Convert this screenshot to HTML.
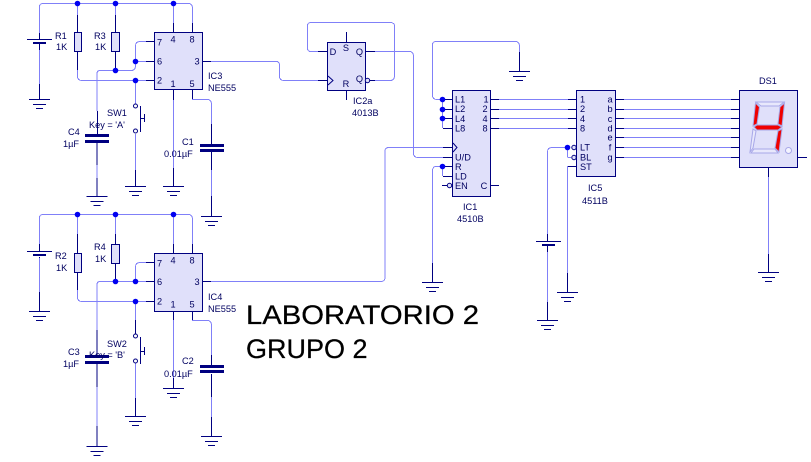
<!DOCTYPE html>
<html><head><meta charset="utf-8"><style>
html,body{margin:0;padding:0;background:#fff;overflow:hidden}
svg{display:block}
text{font-family:"Liberation Sans",sans-serif;font-size:9.2px;fill:#000060}
.m{text-anchor:middle}
.l{fill:none;stroke:#8080f8;stroke-width:1;shape-rendering:crispEdges}
.d{fill:none;stroke:#000080;stroke-width:1;shape-rendering:crispEdges}
.t{fill:none;stroke:#000080;stroke-width:3;shape-rendering:crispEdges}
.t2{fill:none;stroke:#000080;stroke-width:2;shape-rendering:crispEdges}
.b{fill:#e0e0fa;stroke:#000080;stroke-width:1;shape-rendering:crispEdges}
.big{font-size:27px;fill:#000;stroke:#000;stroke-width:.25}
.s{stroke:#a8a8e8;stroke-width:1;fill:#e8e8fc}
.r{stroke:#a8a8e8;stroke-width:1;fill:#f00000}
</style></head><body>
<svg width="811" height="462" viewBox="0 0 811 462" xmlns="http://www.w3.org/2000/svg">
<defs>
<g id="g"><path class="d" d="M-10.5 .5H10.5M-6.5 5.5H6.5M-3.5 9.5H3.5"/></g>
</defs>
<!-- light wires -->
<path class="l" d="M39.5 33V7Q39.5 3.5 43 3.5H188Q192.5 3.5 192.5 8V23M77.5 4V15M115.5 4V15M173.5 4V23M39.5 50V84
M153 80.5H82Q77.5 80.5 77.5 76V70M97 111V74Q97 70.5 100 70.5H131Q135.5 70.5 135.5 66V46Q135.5 41.5 140 41.5H153M136 61.5H154M135.5 81V104M135.5 134V170
M97 165V178M173.5 100V168M211.5 124V104Q211.5 99.5 207 99.5H192M211.5 170V196M202 61.5H270
M39.5 244V218Q39.5 214.5 43 214.5H188Q192.5 214.5 192.5 219V244M77.5 215V234M115.5 215V234M173.5 215V244M39.5 258V292
M153 301.5H82Q77.5 301.5 77.5 297V290M97 330V285Q97 281.5 100 281.5H153M135.5 281V267Q135.5 262.5 140 262.5H153M135.5 302V320M135.5 363V398
M97 387V426M173.5 320V378M211.5 355V325Q211.5 320.5 207 320.5H192M211.5 397V417
M211 281.5H381Q385 281.5 385 277V151Q385 147.5 389 147.5H444
M270 61.5H276Q279.5 61.5 279.5 65V76Q279.5 80.5 284 80.5H318
M318 51.5H311Q307.5 51.5 307.5 48V26Q307.5 22.5 311 22.5H390Q394.5 22.5 394.5 26V76Q394.5 80.5 390 80.5H375
M375 51.5H409Q413.5 51.5 413.5 56V153Q413.5 157.5 418 157.5H444
M443 99.5H437Q432.5 99.5 432.5 95V45Q432.5 41.5 436 41.5H515Q519.5 41.5 519.5 46V52
M442.5 100V128M443 128.5H453M442.5 167V176M443 166.5H436Q432.5 166.5 432.5 171V263
M499 99.5H568M499 109.5H568M499 118.5H568M499 128.5H568
M624 99.5H731M624 109.5H731M624 118.5H731M624 128.5H731M624 137.5H731M624 147.5H731M624 157.5H731
M768.5 177V254
M567 147.5H552Q547.5 147.5 547.5 152V234M547.5 252V302M567.5 148V157M567.5 157.5H571M576 166.5H567.5V273"/>
<!-- dark leads -->
<path class="d" d="M39.5 33V39M39.5 44V50M39.5 84V99M77.5 15V32M77.5 51V70M115.5 15V32M115.5 51V70
M146 41.5H154M146 61.5H154M146 80.5H154M173.5 23V32M192.5 23V32M173.5 90V100M192.5 90V99M202 61.5H211
M135.5 170V186M173.5 168V186M97.5 111V134M97 143V165M97 178V196M211.5 124V144M211.5 152V170M211.5 196V216
M140.5 106V132M141 118.5H144M144.5 114V122
M39.5 244V251M39.5 257V258M39.5 292V311M77.5 234V253M77.5 272V290M115.5 234V244M115.5 263V281
M146 262.5H154M146 281.5H154M146 301.5H154M173.5 244V253M192.5 244V253M173.5 311V320M192.5 311V320M202 281.5H211
M135.5 398V416M173.5 378V388M97 330V355M97 363V387M97 426V446M211.5 355V365M211.5 374V397M211.5 417V436
M140.5 337V364M141 351.5H144M144.5 347V355M135.5 320V334
M318 51.5H328M318 80.5H328M346.5 32V42M346.5 90V100M366 51.5H375M370 80.5H375
M519.5 52V71M432.5 263V282
M443 99.5H453M443 109.5H453M443 118.5H453M443 128.5H453M443 147.5H453M443 157.5H453M443 166.5H453M443 176.5H453M442 185.5H447
M491 99.5H499M491 109.5H499M491 118.5H499M491 128.5H499M491 185.5H499
M568 99.5H576M568 109.5H576M568 118.5H576M568 128.5H576M568 166.5H576
M616 99.5H624M616 109.5H624M616 118.5H624M616 128.5H624M616 137.5H624M616 147.5H624M616 157.5H624
M731 99.5H739M731 109.5H739M731 118.5H739M731 128.5H739M731 137.5H739M731 147.5H739M731 157.5H739M798 157.5H807
M768.5 168V177M768.5 254V272M547.5 234V241M547.5 245V252M547.5 302V320M567.5 273V292"/>
<!-- batteries -->
<path class="d" d="M27 39.5H52M27 251.5H52M536 241.5H561"/>
<path class="t2" d="M33 43H46M33 255H46M542 245H555"/>
<!-- caps -->
<path class="t" d="M85 135.5H109M85 141.5H109M200 145.5H224M200 150.5H224M85 356.5H109M85 362.5H109M200 366.5H224M200 371.5H224"/>
<!-- grounds -->
<use href="#g" x="39.5" y="99"/><use href="#g" x="97" y="196"/><use href="#g" x="135.5" y="186"/><use href="#g" x="173.5" y="186"/><use href="#g" x="211.5" y="216"/>
<use href="#g" x="39.5" y="311"/><use href="#g" x="97" y="446"/><use href="#g" x="135.5" y="416"/><use href="#g" x="173.5" y="388"/><use href="#g" x="211.5" y="436"/>
<use href="#g" x="519.5" y="71"/><use href="#g" x="432.5" y="282"/><use href="#g" x="547.5" y="320"/><use href="#g" x="567.5" y="292"/><use href="#g" x="768.5" y="272"/>
<!-- bodies -->
<rect class="b" x="74.5" y="32.5" width="7" height="19"/><rect class="b" x="111.5" y="32.5" width="8" height="19"/>
<rect class="b" x="74.5" y="253.5" width="7" height="19"/><rect class="b" x="111.5" y="244.5" width="8" height="19"/>
<rect class="b" x="154.5" y="32.5" width="48" height="57"/><rect class="b" x="154.5" y="253.5" width="48" height="58"/>
<rect class="b" x="327.5" y="42.5" width="38" height="48"/><rect class="b" x="452.5" y="90.5" width="38" height="106"/>
<rect class="b" x="576.5" y="90.5" width="39" height="86"/><rect class="b" x="739.5" y="90.5" width="58" height="77"/>
<path class="d" style="shape-rendering:auto" d="M328 76L333 80.5L328 85M453 143L457 147.5L453 152"/>
<!-- open circles -->
<g fill="#fff" stroke="#000080"><circle cx="135.5" cy="106" r="2"/><circle cx="135.5" cy="131" r="2"/><circle cx="135.5" cy="336" r="2"/><circle cx="135.5" cy="361" r="2"/></g>
<g fill="#e0e0fa" stroke="#000080"><circle cx="367.5" cy="80.5" r="2.2"/><circle cx="449.5" cy="185.5" r="2.2"/><circle cx="574" cy="147.5" r="2.2"/><circle cx="574" cy="157.5" r="2.2"/></g>
<!-- dots -->
<g fill="#0000f0"><circle cx="77.5" cy="3.5" r="2.8"/><circle cx="115.5" cy="3.5" r="2.8"/><circle cx="173.5" cy="3.5" r="2.8"/><circle cx="135.5" cy="61.5" r="2.8"/><circle cx="115.5" cy="70.5" r="2.8"/><circle cx="135.5" cy="80.5" r="2.8"/>
<circle cx="77.5" cy="214.5" r="2.8"/><circle cx="115.5" cy="214.5" r="2.8"/><circle cx="173.5" cy="214.5" r="2.8"/><circle cx="115.5" cy="281.5" r="2.8"/><circle cx="135.5" cy="281.5" r="2.8"/><circle cx="135.5" cy="301.5" r="2.8"/>
<circle cx="442.5" cy="99.5" r="2.8"/><circle cx="442.5" cy="109.5" r="2.8"/><circle cx="442.5" cy="118.5" r="2.8"/><circle cx="442.5" cy="166.5" r="2.8"/><circle cx="567.5" cy="147.5" r="2.8"/></g>
<!-- seven segment -->
<polygon class="s" points="756,102 784,102 779,106 761,106"/>
<polygon class="r" points="755.5,103 759.5,107 757,124 753,126"/>
<polygon class="r" points="784.5,103 780,107 778,124 782,126"/>
<polygon class="r" points="754,127 757,125 778,125 782,127 778,130 757,130"/>
<polygon class="s" points="753,129 756,131 753,148 750,152"/>
<polygon class="r" points="782,129 778,131 775,148 779,152"/>
<polygon class="s" points="751,153 754,149 775,149 778,153"/>
<circle cx="788.5" cy="150.5" r="3" fill="#f4f4ff" stroke="#a8a8e8"/>
<!-- labels -->
<g>
<text x="55" y="39">R1</text><text x="56" y="50">1K</text><text x="94" y="39">R3</text><text x="95" y="50">1K</text>
<text class="m" x="159.5" y="45.5">7</text><text class="m" x="173" y="42.5">4</text><text class="m" x="192" y="42.5">8</text><text class="m" x="159.5" y="64.5">6</text><text class="m" x="197" y="64.5">3</text><text class="m" x="159.5" y="83.5">2</text><text class="m" x="173" y="87">1</text><text class="m" x="192" y="87">5</text>
<text x="208" y="79">IC3</text><text x="208" y="91">NE555</text>
<text x="107" y="116">SW1</text><text x="89" y="128">Key = 'A'</text><text x="68" y="135">C4</text><text x="63" y="147">1µF</text><text x="182" y="145">C1</text><text x="164" y="157">0.01µF</text>
<text x="55" y="259">R2</text><text x="56" y="271">1K</text><text x="94" y="250">R4</text><text x="95" y="262">1K</text>
<text class="m" x="159.5" y="266.5">7</text><text class="m" x="173" y="263.5">4</text><text class="m" x="192" y="263.5">8</text><text class="m" x="159.5" y="285">6</text><text class="m" x="197" y="285">3</text><text class="m" x="159.5" y="304.5">2</text><text class="m" x="173" y="307.5">1</text><text class="m" x="192" y="307.5">5</text>
<text x="208" y="300">IC4</text><text x="208" y="312">NE555</text>
<text x="107" y="347">SW2</text><text x="89" y="358">Key = 'B'</text><text x="68" y="355">C3</text><text x="63" y="367">1µF</text><text x="182" y="364">C2</text><text x="164" y="377">0.01µF</text>
<text class="m" x="333" y="55">D</text><text class="m" x="346" y="51">S</text><text class="m" x="359.5" y="55">Q</text><text class="m" x="346" y="87">R</text><text class="m" x="359.5" y="82">Q</text>
<text x="353" y="104">IC2a</text><text x="352" y="116">4013B</text>
<text x="455" y="102.5">L1</text><text x="455" y="112">L2</text><text x="455" y="122">L4</text><text x="455" y="131.5">L8</text><text x="455" y="160.5">U/D</text><text x="455" y="170">R</text><text x="455" y="179.5">LD</text><text x="455" y="189">EN</text>
<text class="m" x="486" y="102.5">1</text><text class="m" x="485" y="112">2</text><text class="m" x="485" y="122">4</text><text class="m" x="485" y="131.5">8</text><text class="m" x="484" y="189">C</text>
<text x="463" y="210">IC1</text><text x="457" y="222">4510B</text>
<text x="580" y="102.5">1</text><text x="580" y="112">2</text><text x="580" y="122">4</text><text x="580" y="131.5">8</text><text x="580" y="150.5">LT</text><text x="580" y="160.5">BL</text><text x="580" y="170">ST</text>
<text class="m" x="610" y="102.5">a</text><text class="m" x="610" y="112">b</text><text class="m" x="610" y="122">c</text><text class="m" x="610" y="131.5">d</text><text class="m" x="610" y="140.5">e</text><text class="m" x="610" y="150.5">f</text><text class="m" x="610" y="160.5">g</text>
<text x="588" y="191">IC5</text><text x="582" y="204">4511B</text><text x="759" y="84">DS1</text>
</g>
<text class="big" x="246" y="324" textLength="233" lengthAdjust="spacingAndGlyphs">LABORATORIO 2</text>
<text class="big" x="246" y="358">GRUPO 2</text>
</svg>
</body></html>
